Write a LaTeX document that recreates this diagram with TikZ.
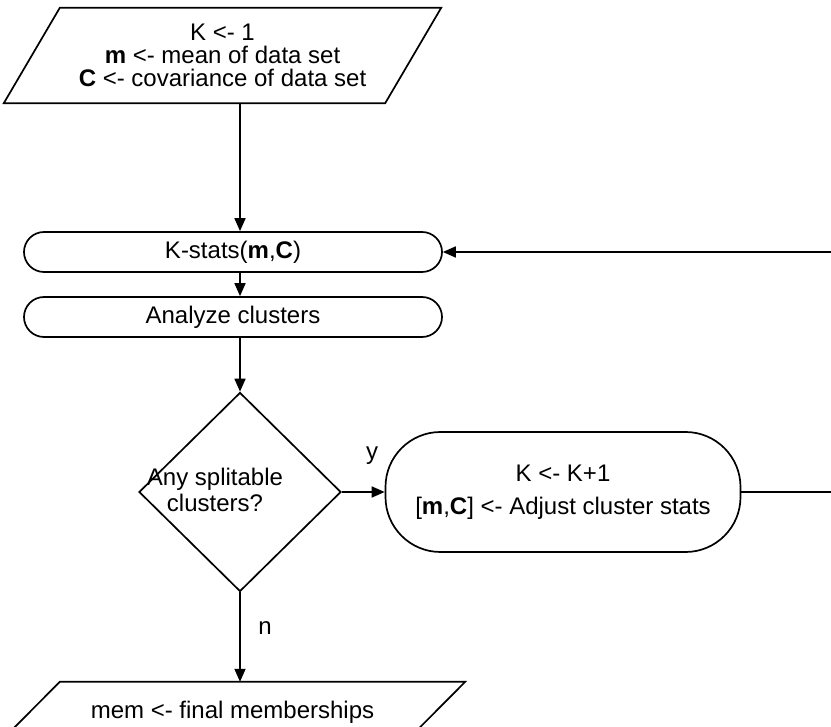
\documentclass[tikz,border=0pt]{standalone}
\usepackage{fontspec}
\setmainfont{Liberation Sans}
\usetikzlibrary{shapes.geometric,arrows.meta}

\tikzset{
  flow/.style={line width=1.7pt, -{Triangle[length=13pt,width=11pt]}},
  outline/.style={line width=1.7pt},
  iotext/.style={rectangle, align=center, inner sep=0pt},
  procbox/.style={rectangle, draw, line width=1.7pt, rounded corners=20pt, align=center, minimum width=418pt, minimum height=40pt},
  choice/.style={diamond, draw, line width=1.7pt, minimum width=202pt, minimum height=199pt, inner sep=0pt},
  tag/.style={inner sep=0pt}
}

\begin{document}
\begin{tikzpicture}[x=1pt, y=-1pt, font=\fontsize{24}{23}\selectfont]
\clip (0,0) rectangle (831,727);
\coordinate (spine) at (240,0);
\coordinate (loopback) at (860,0);

% input / output blocks
\node[iotext, minimum width=381pt, minimum height=95pt] (init) at (222.5,55.5) {K <- 1\\ \textbf{m} <- mean of data set\\ \textbf{C} <- covariance of data set};
\draw[outline] ([xshift=28pt]init.north west) -- ([xshift=28pt]init.north east) -- ([xshift=-28pt]init.south east) -- ([xshift=-28pt]init.south west) -- cycle;
\node[iotext, minimum width=405pt, minimum height=60pt] (final) at (232.5,712) {mem <- final memberships};
\draw[outline] ([xshift=30pt]final.north west) -- ([xshift=30pt]final.north east) -- ([xshift=-30pt]final.south east) -- ([xshift=-30pt]final.south west) -- cycle;

\node[procbox] (kstats) at (233,252) {K-stats(\textbf{m},\textbf{C})};
\node[procbox] (analyze) at (233,317) {Analyze clusters};
\node[choice] (split) at (240,492) {};
\node[tag, align=center] (splittxt) at (215,490) {Any splitable\\[3pt]clusters?};
\node[procbox, rounded corners=55pt, minimum width=355pt, minimum height=120pt] (adjust) at (563,492) {K <- K+1\\[10pt]{[}\textbf{m},\textbf{C}{]} <- Adjust cluster stats};
\node[tag] (ylab) at (372,456) {y};
\node[tag] (nlab) at (265,628) {n};

% connectors
\draw[flow] (init.south -| spine) -- (kstats.north -| spine);
\draw[flow] (kstats.south -| spine) -- (analyze.north -| spine);
\draw[flow] (analyze.south -| spine) -- (split.north);
\draw[flow] (split.east) -- (adjust.west);
\draw[flow] (split.south) -- (final.north -| spine);
\draw[flow] (adjust.east) -- (adjust.east -| loopback) |- (kstats.east);
\end{tikzpicture}
\end{document}
